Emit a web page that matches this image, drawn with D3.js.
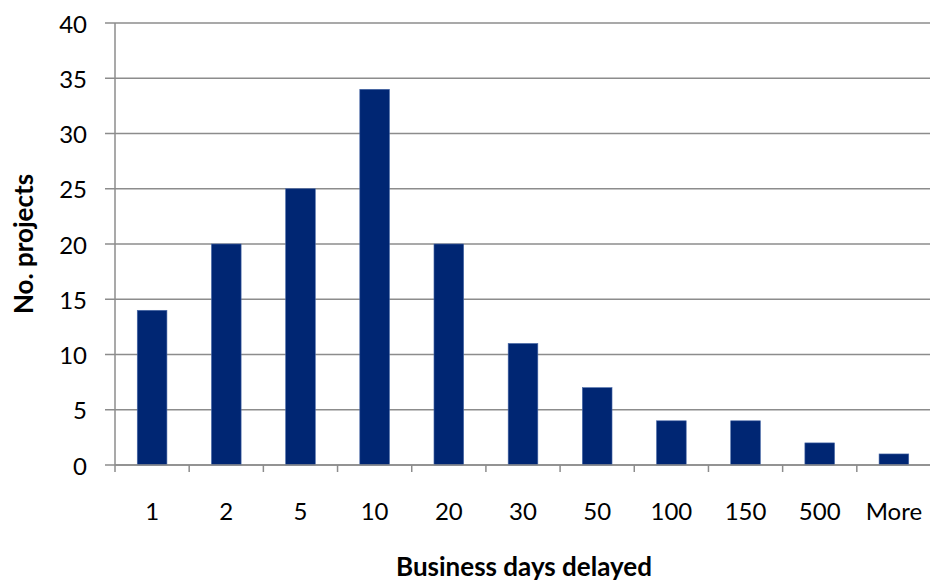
<!DOCTYPE html>
<html><head><meta charset="utf-8">
<script src="https://cdn.jsdelivr.net/npm/d3@7"></script>
<style>body{margin:0;background:#fff}svg{display:block}text{font-family:Lato,"Open Sans","Liberation Sans",sans-serif;fill:#000}</style>
</head><body><svg id="c" width="930" height="582"></svg>
<script>
const categories = ["1","2","5","10","20","30","50","100","150","500","More"];
const counts = [14,20,25,34,20,11,7,4,4,2,1];
const yTicks = [0,5,10,15,20,25,30,35,40];

const svg = d3.select("#c");
const x = d3.scaleBand().domain(categories).range([115, 931]).paddingInner(0.6).paddingOuter(0.3);
const y = d3.scaleLinear().domain([0,40]).range([465, 23]);

// gridlines
svg.append("g").selectAll("line").data(yTicks).join("line")
  .attr("x1", 105).attr("x2", 930)
  .attr("y1", d=>y(d)).attr("y2", d=>y(d))
  .attr("stroke", "#8c8c8c").attr("stroke-width", 1.5);

// y labels
svg.append("g").selectAll("text").data(yTicks).join("text")
  .attr("x", 87).attr("y", d=>y(d)).attr("dy","0.4em")
  .attr("text-anchor","end").attr("font-size", 24).text(d=>d);

// bars
svg.append("g").selectAll("rect").data(counts).join("rect")
  .attr("x", (d,i)=>x(categories[i])).attr("width", x.bandwidth())
  .attr("y", d=>y(d)).attr("height", d=>y(0)-y(d))
  .attr("fill", "#002673").attr("stroke","#4a6aa8").attr("stroke-width",0.6);

// axes lines
svg.append("line").attr("x1",115).attr("x2",115).attr("y1",23).attr("y2",465)
  .attr("stroke","#8c8c8c").attr("stroke-width",1.5);
svg.append("line").attr("x1",115).attr("x2",930).attr("y1",465).attr("y2",465)
  .attr("stroke","#8c8c8c").attr("stroke-width",1.5);

// x tick marks between categories
const step = x.step();
const bounds = d3.range(categories.length+1).map(i => x(categories[0]) - x.paddingInner()*step/2 + i*step);
svg.append("g").selectAll("line").data(bounds.filter(b=>b<930)).join("line")
  .attr("x1", d=>d).attr("x2", d=>d).attr("y1",465).attr("y2",472)
  .attr("stroke","#8c8c8c").attr("stroke-width",1.5);

// x labels
svg.append("g").selectAll("text").data(categories).join("text")
  .attr("x", d=>x(d)+x.bandwidth()/2).attr("y", 520)
  .attr("text-anchor","middle").attr("font-size",24).text(d=>d);

// titles
svg.append("text").attr("x", 524).attr("y", 576)
  .attr("text-anchor","middle").attr("font-size",26).attr("font-weight","bold")
  .text("Business days delayed");
svg.append("text").attr("transform","translate(33,244) rotate(-90)")
  .attr("text-anchor","middle").attr("font-size",26).attr("font-weight","bold")
  .text("No. projects");
</script></body></html>
